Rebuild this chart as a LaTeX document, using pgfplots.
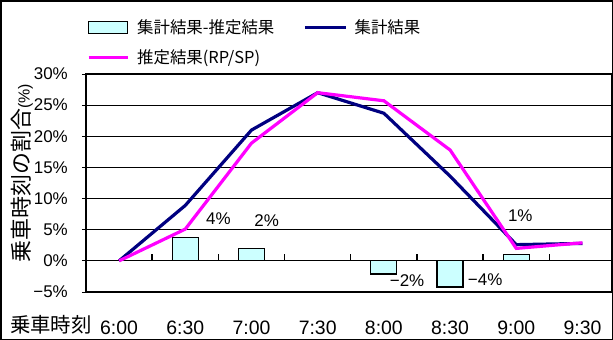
\documentclass[border=0pt]{standalone}
\usepackage{pgfplots}
\pgfplotsset{compat=1.18}
\usepackage{fontspec}
\setmainfont{Liberation Sans}
\newfontfamily\jp{Noto Sans CJK JP}
\definecolor{barcyan}{HTML}{CCFFFF}
\definecolor{navyline}{HTML}{000080}
\definecolor{magline}{HTML}{FF00FF}
\setlength{\fboxsep}{0pt}
\setlength{\fboxrule}{1.5bp}
\begin{document}
\fbox{%
\begin{tikzpicture}
\begin{axis}[
  at={(0,0)}, anchor=south west,
  scale only axis, width=526bp, height=218bp,
  clip=false,
  xmin=-0.5, xmax=7.446, ymin=-5, ymax=30,
  xtick={0,...,7},
  xticklabels={6:00,6:30,7:00,7:30,8:00,8:30,9:00,9:30},
  ytick={-5,0,5,10,15,20,25,30},
  yticklabels={−5\%,0\%,5\%,10\%,15\%,20\%,25\%,30\%},
  xtick style={draw=none},
  ytick pos=left, tick align=outside, major tick length=4bp,
  ytick style={black, line width=1bp},
  ymajorgrids, major grid style={black, line width=1.1bp},
  axis line style={black, line width=2bp},
  xticklabel style={font=\fontsize{19.5}{22}\selectfont, anchor=north, inner sep=0pt, yshift=-25bp},
  yticklabel style={font=\fontsize{17}{20}\selectfont, anchor=east, inner sep=0pt, xshift=-14bp},
  ylabel={{\jp 乗車時刻の割合}{\fontsize{16}{18}\selectfont(\%)}},
  ylabel style={at={(axis description cs:-0.1217,0.546)}, anchor=center, font=\fontsize{22}{26}\selectfont},
  xlabel={\jp 乗車時刻},
  xlabel style={at={(axis description cs:0.0114,-0.1835)}, anchor=base east, inner sep=0pt, font=\fontsize{20.5}{24}\selectfont},
  legend columns=2,
  legend style={draw=none, fill=none, at={(axis description cs:0.0015,1.145)}, anchor=west,
    inner sep=0pt, row sep=15bp, column sep=0bp,
    /tikz/every even column/.append style={column sep=29bp},
    nodes={inner sep=0pt, anchor=west, font=\jp\fontsize{16.5}{18}\selectfont}},
  legend cell align=left,
]
\addplot[ybar, bar width=26bp, fill=barcyan, draw=black, line width=1.2bp,
  legend image code/.code={\draw[black, line width=1.2bp, fill=barcyan] (0bp,-6bp) rectangle (39bp,6bp); \path (47bp,0bp);}]
  coordinates {(1,3.8) (2,2.0) (4,-2.1) (5,-4.2) (6,1.0)};
\addlegendentry{集計結果-推定結果}
\addplot[navyline, line width=3.2bp, mark=none,
  legend image code/.code={\draw[navyline, line width=3.2bp] (0bp,0bp) -- (41bp,0bp); \path (48bp,0bp);}]
  coordinates {(0,0) (1,8.9) (2,21.0) (3,27.0) (4,23.7) (5,13.6) (6,2.6) (7,2.8)};
\addlegendentry{集計結果}
\addplot[magline, line width=3.2bp, mark=none,
  legend image code/.code={\draw[magline, line width=3.2bp] (0bp,0bp) -- (39bp,0bp); \path (47bp,0bp);}]
  coordinates {(0,0) (1,5.1) (2,18.9) (3,27.0) (4,25.7) (5,17.8) (6,2.0) (7,2.9)};
\addlegendentry{推定結果(RP/SP)}
\pgfplotsinvokeforeach{0.5,1.5,2.5,3.5,4.5,5.5,6.5}{\draw[black, line width=1.4bp] (axis cs:#1,0) -- ++(0bp,7bp);}
\node[font=\fontsize{17}{20}\selectfont] at (axis cs:1.5,6.8) {4\%};
\node[font=\fontsize{17}{20}\selectfont] at (axis cs:2.23,6.5) {2\%};
\node[font=\fontsize{17}{20}\selectfont] at (axis cs:4.35,-3.1) {−2\%};
\node[font=\fontsize{17}{20}\selectfont] at (axis cs:5.53,-3.0) {−4\%};
\node[font=\fontsize{17}{20}\selectfont] at (axis cs:6.06,7.3) {1\%};
\end{axis}
\pgfresetboundingbox
\path[use as bounding box] (-84.5bp,-46.5bp) rectangle (525.5bp,290.5bp);
\end{tikzpicture}%
}
\end{document}
